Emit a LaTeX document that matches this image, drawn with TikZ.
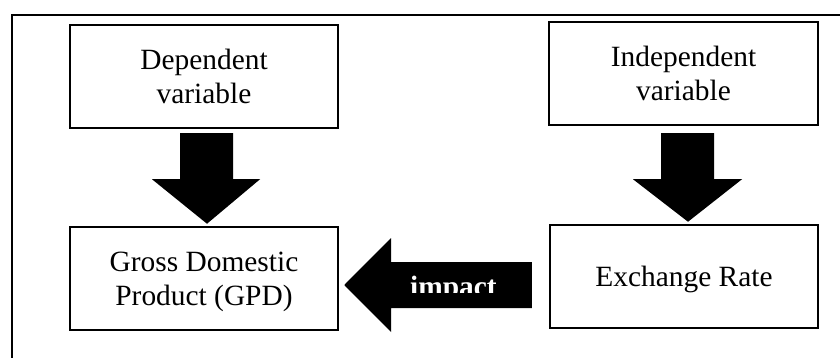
\documentclass[tikz,border=0pt]{standalone}
\usepackage{fontspec}
\setmainfont{Liberation Serif}
\usetikzlibrary{calc}
\begin{document}
\begin{tikzpicture}[x=1pt,y=-1pt,
  varbox/.style={draw=black,line width=2.5pt,rectangle,inner sep=0pt,
    minimum width=268pt,minimum height=103pt,align=center,
    font=\fontsize{29.4}{34}\selectfont,text depth=0pt},
  bigarrow/.style={fill=black,draw=none}]
\useasboundingbox (0,0) rectangle (840,358);
% frame
\draw[line width=2.2pt] (12,360) -- (12,15) -- (842,15);
% boxes
\node[varbox] (dep) at (204,76.5) {Dependent\\variable};
\node[varbox,minimum width=269pt] (ind) at (683.5,73.5) {Independent\\variable};
\node[varbox] (gdp) at (204,278.5) {Gross Domestic\\Product (GPD)};
\node[varbox] (exr) at (684,276.5) {Exchange Rate};
% down arrow 1
\fill[bigarrow] ($(dep.south)+(-24,4)$) -- ($(dep.south)+(29,4)$) -- ($(dep.south)+(29,50)$)
  -- ($(dep.south)+(56,50)$) -- ($(gdp.north)+(3,-2)$) -- ($(dep.south)+(-52,50)$)
  -- ($(dep.south)+(-24,50)$) -- cycle;
% down arrow 2
\fill[bigarrow] ($(ind.south)+(-22.5,7)$) -- ($(ind.south)+(30.5,7)$) -- ($(ind.south)+(30.5,53)$)
  -- ($(ind.south)+(58.5,53)$) -- ($(exr.north)+(4,-2)$) -- ($(ind.south)+(-50.5,53)$)
  -- ($(ind.south)+(-22.5,53)$) -- cycle;
% left arrow
\coordinate (sh) at ($(exr.west)+(-17,0)$);
\fill[bigarrow] (sh|-0,262) -- (sh|-0,308) -- (391,308) -- (391,332)
  -- ($(gdp.east)+(5,6.5)$) -- (391,238) -- (391,262) -- cycle;
\begin{scope}
  \clip (391,262) rectangle (sh|-0,292);
  \node[anchor=base,text=white,inner sep=0pt,font=\fontsize{29.4}{34}\selectfont\bfseries] (imp) at (453.5,296) {impact};
\end{scope}
\end{tikzpicture}
\end{document}
